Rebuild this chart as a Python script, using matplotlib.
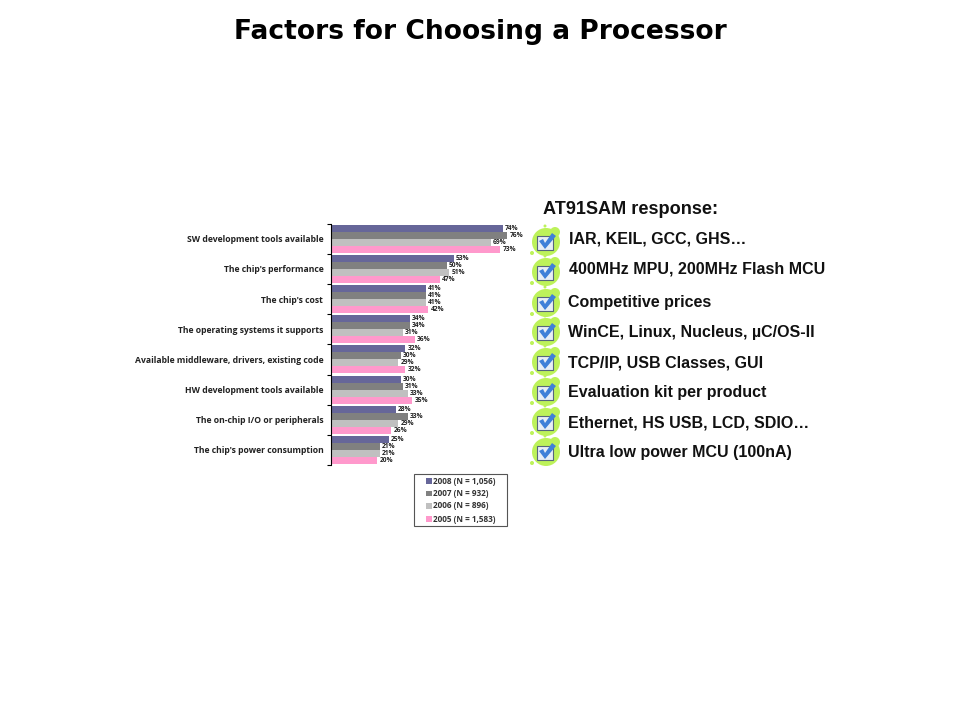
import numpy as np
import matplotlib
matplotlib.use('Agg')
import matplotlib.pyplot as plt
from matplotlib.patches import Circle, Ellipse, Rectangle, Polygon

# Survey data
factors = ["SW development tools available", "The chip's performance", "The chip's cost",
           "The operating systems it supports", "Available middleware, drivers, existing code",
           "HW development tools available", "The on-chip I/O or peripherals",
           "The chip's power consumption"]
y2008 = [74, 53, 41, 34, 32, 30, 28, 25]
y2007 = [76, 50, 41, 34, 30, 31, 33, 21]
y2006 = [69, 51, 41, 31, 29, 33, 29, 21]
y2005 = [73, 47, 42, 36, 32, 35, 26, 20]
series_labels = ["2008 (N = 1,056)", "2007 (N = 932)", "2006 (N = 896)", "2005 (N = 1,583)"]
series_colors = ['#666699', '#808080', '#C0C0C0', '#FF99CC']

header = "AT91SAM response:"
responses = ["IAR, KEIL, GCC, GHS…", "400MHz MPU, 200MHz Flash MCU", "Competitive prices",
             "WinCE, Linux, Nucleus, µC/OS-II", "TCP/IP, USB Classes, GUI",
             "Evaluation kit per product", "Ethernet, HS USB, LCD, SDIO…",
             "Ultra low power MCU (100nA)"]
response_x = [569, 569, 567.5, 568, 568, 568, 568, 568]
response_y = [239.5, 269, 302, 333, 362.5, 393, 423, 453]
icon_y = [242, 272, 303, 332, 362, 392, 422, 452]

W, H = 960, 720
fig = plt.figure(figsize=(9.6, 7.2), dpi=100, facecolor='white')

# Overlay in pixel coordinates for title, response list, icons and legend
ov = fig.add_axes([0, 0, 1, 1])
ov.set_xlim(0, W)
ov.set_ylim(H, 0)
ov.axis('off')

ov.text(480, 32, "Factors for Choosing a Processor", family='DejaVu Sans', fontweight='bold',
        fontsize=19.1, ha='center', va='center', color='black')
ov.text(543, 209, header, family='Liberation Sans', fontweight='bold', fontsize=13.1,
        va='center', color='#111111')


def draw_icon(cx, cy):
    green = '#BDF25A'
    ov.add_patch(Ellipse((cx, cy), 28, 28, color=green, lw=0, zorder=2))
    ov.add_patch(Circle((cx + 9, cy - 10), 5, color=green, lw=0, zorder=2))
    ov.add_patch(Circle((cx - 14, cy + 11), 2, color=green, lw=0, zorder=2))
    ov.add_patch(Circle((cx - 1, cy - 16), 1.5, color=green, lw=0, zorder=2))
    ov.add_patch(Rectangle((cx - 9, cy - 6), 16, 14, facecolor='#E8EEF5', edgecolor='#56667C',
                           lw=0.8, zorder=3))
    ov.add_patch(Polygon([(cx - 7, cy - 1), (cx - 3, cy - 3), (cx - 1, cy + 1), (cx + 6, cy - 9),
                          (cx + 10, cy - 6), (cx - 1, cy + 7)],
                         closed=True, color='#3F80D8', lw=0, zorder=4))


for text_x, text_y, c_y, txt in zip(response_x, response_y, icon_y, responses):
    draw_icon(546, c_y)
    ov.text(text_x, text_y, txt, family='Liberation Sans', fontweight='bold', fontsize=11.55,
            va='center', color='#111111')

# Legend box
ov.add_patch(Rectangle((413.5, 473.5), 93, 52.5, facecolor='white', edgecolor='#555555', lw=0.8,
                       zorder=2))
legend_y = [481, 493.4, 505.8, 519]
for row_y, lab, col in zip(legend_y, series_labels, series_colors):
    ov.add_patch(Rectangle((426, row_y - 2.8), 5.5, 5.5, facecolor=col, lw=0, zorder=3))
    ov.text(433, row_y, lab, family='Open Sans', fontweight='bold', fontsize=5.9, va='center',
            color='#333333', zorder=3)

# Bar chart axes
left, right, top, bottom = 331, 331 + 2.32 * 80, 223.7, 465
ax = fig.add_axes([left / W, 1 - bottom / H, (right - left) / W, (bottom - top) / H])
ax.patch.set_alpha(0)

y_pos = np.arange(len(factors))
bar_h = 0.232
all_series = [y2008, y2007, y2006, y2005]
for i, (vals, lab, col) in enumerate(zip(all_series, series_labels, series_colors)):
    offset = (i - 1.5) * bar_h
    bars = ax.barh(y_pos + offset, vals, height=bar_h, color=col, linewidth=0)
    for rect, v in zip(bars, vals):
        ax.text(v + 0.9, rect.get_y() + rect.get_height() / 2, f"{v}%", fontsize=4.8,
                family='Open Sans', fontweight='bold', va='center', ha='left', color='#222222')

ax.set_xlim(0, 80)
ax.set_ylim(len(factors) - 0.5, -0.5)
ax.set_yticks(np.arange(len(factors) + 1) - 0.5)
ax.set_yticklabels([])
ax.set_yticks(y_pos, minor=True)
ax.set_yticklabels(factors, minor=True, family='Open Sans', fontweight='bold', fontsize=6.2,
                   color='#222222')
ax.tick_params(axis='y', which='major', length=3, width=0.8, direction='out', color='black')
ax.tick_params(axis='y', which='minor', length=0, pad=5.5)
ax.set_xticks([])
for side in ['top', 'right', 'bottom']:
    ax.spines[side].set_visible(False)
ax.spines['left'].set_linewidth(0.8)

fig.savefig('out.png', dpi=100, facecolor='white')
